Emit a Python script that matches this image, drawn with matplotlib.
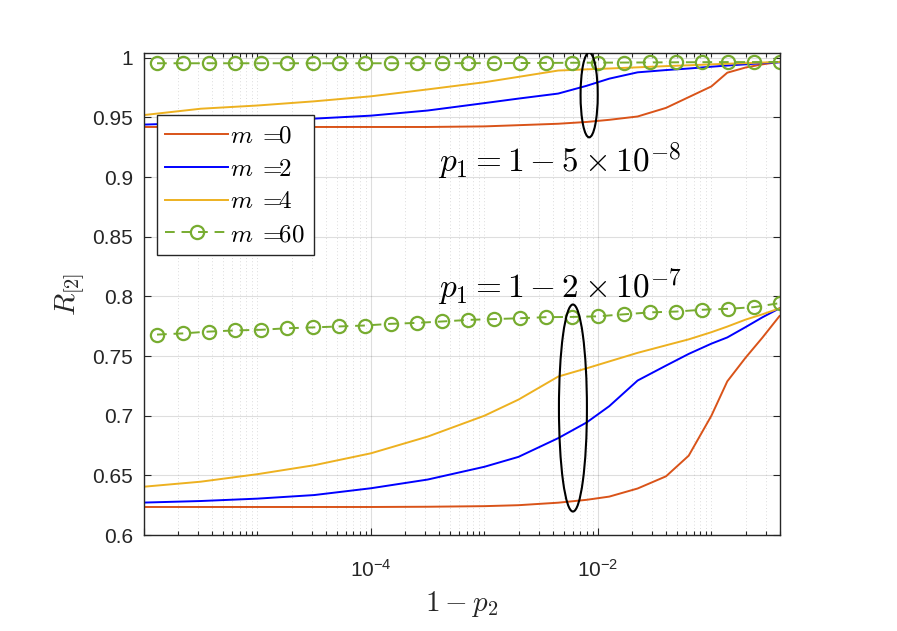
#!/usr/bin/env python3

import matplotlib
matplotlib.use('Agg')
import matplotlib.pyplot as plt
from matplotlib.patches import Ellipse
from matplotlib.ticker import FixedLocator, FixedFormatter, NullFormatter
import numpy as np

# shared x grid for the solid curves (log10 of 1 - p2)
x_exp = [-6, -5.5, -5, -4.5, -4, -3.5, -3, -2.7, -2.35, -2.1, -1.9, -1.65,
         -1.4, -1.2, -1.0, -0.86, -0.7, -0.55, -0.4]

# p1 = 1 - 5e-8
m0_top = [0.942, 0.942, 0.942, 0.942, 0.942, 0.942, 0.9425, 0.9435, 0.9447,
          0.9462, 0.948, 0.9508, 0.958, 0.967, 0.976, 0.9875, 0.9918, 0.9945,
          0.9965]
m2_top = [0.944, 0.9455, 0.947, 0.949, 0.9515, 0.9558, 0.962, 0.9658, 0.970,
          0.9765, 0.9825, 0.9878, 0.9897, 0.991, 0.9925, 0.9935, 0.9945,
          0.9955, 0.9962]
m4_top = [0.952, 0.9573, 0.960, 0.9635, 0.9677, 0.9735, 0.9795, 0.984, 0.9893,
          0.9903, 0.991, 0.992, 0.993, 0.9937, 0.9945, 0.995, 0.9955, 0.996,
          0.9965]

# p1 = 1 - 2e-7
m0_bot = [0.6235, 0.6235, 0.6235, 0.6235, 0.6235, 0.6237, 0.6242, 0.625,
          0.6271, 0.6295, 0.6322, 0.639, 0.6492, 0.6665, 0.700, 0.7288, 0.7485,
          0.7655, 0.7835]
m2_bot = [0.6272, 0.6285, 0.6305, 0.6335, 0.6392, 0.6465, 0.6572, 0.6655,
          0.6812, 0.6943, 0.708, 0.7295, 0.742, 0.7518, 0.7604, 0.7656, 0.7742,
          0.7825, 0.790]
m4_bot = [0.6405, 0.6447, 0.651, 0.6585, 0.6685, 0.6825, 0.700, 0.7135,
          0.7328, 0.7397, 0.7455, 0.7527, 0.759, 0.764, 0.770, 0.7747, 0.7805,
          0.785, 0.790]

# m = 60 curves (with markers)
x60_exp = [-5.885, -5.656, -5.428, -5.199, -4.970, -4.742, -4.513, -4.284,
           -4.056, -3.827, -3.598, -3.370, -3.141, -2.912, -2.684, -2.455,
           -2.226, -1.998, -1.769, -1.540, -1.312, -1.083, -0.854, -0.625,
           -0.396]
m60_top = [0.9954, 0.9954, 0.9954, 0.9954, 0.9954, 0.9954, 0.9954, 0.9954,
           0.9954, 0.9954, 0.9954, 0.9955, 0.9955, 0.9955, 0.9956, 0.9957,
           0.9958, 0.9959, 0.996, 0.9961, 0.9962, 0.9963, 0.9964, 0.9964,
           0.9965]
m60_bot = [0.768, 0.769, 0.7705, 0.7715, 0.772, 0.7733, 0.774, 0.7748, 0.7756,
           0.777, 0.7778, 0.779, 0.7803, 0.781, 0.7817, 0.7826, 0.7828, 0.7833,
           0.785, 0.7866, 0.7873, 0.7888, 0.7896, 0.791, 0.7944]

y_ticks = [0.6, 0.65, 0.7, 0.75, 0.8, 0.85, 0.9, 0.95, 1.0]
y_tick_labels = ['0.6', '0.65', '0.7', '0.75', '0.8', '0.85', '0.9', '0.95', '1']
x_ticks = [1e-6, 1e-4, 1e-2]
x_tick_labels = ['', r'$\mathdefault{10^{-4}}$', r'$\mathdefault{10^{-2}}$']

legend_labels = [r'$m\;=\!\!0$', r'$m\;=\!\!2$', r'$m\;=\!\!4$',
                 r'$m\;=\!\!60$']

C_RED = '#D95319'
C_BLUE = '#0000FF'
C_ORANGE = '#EDB120'
C_GREEN = '#77AC30'
C_AX = '#262626'


def main():
    plt.rcParams['font.family'] = ['Liberation Sans', 'DejaVu Sans']
    plt.rcParams['mathtext.fontset'] = 'cm'
    plt.rcParams['axes.unicode_minus'] = False

    fig = plt.figure(figsize=(8.97, 6.31), dpi=100)
    ax = fig.add_axes([0.1605, 0.1521, 0.7090, 0.7639])

    x = 10.0 ** np.array(x_exp)
    x60 = 10.0 ** np.array(x60_exp)

    lw = 1.4
    mk = dict(marker='o', markersize=9.5, markerfacecolor='none',
              markeredgewidth=1.6, dashes=(5, 3.5))

    ax.plot(x, m0_top, color=C_RED, lw=lw, label=legend_labels[0])
    ax.plot(x, m2_top, color=C_BLUE, lw=lw, label=legend_labels[1])
    ax.plot(x, m4_top, color=C_ORANGE, lw=lw, label=legend_labels[2])
    ax.plot(x60, m60_top, color=C_GREEN, lw=lw, label=legend_labels[3], **mk)

    ax.plot(x, m0_bot, color=C_RED, lw=lw)
    ax.plot(x, m2_bot, color=C_BLUE, lw=lw)
    ax.plot(x, m4_bot, color=C_ORANGE, lw=lw)
    ax.plot(x60, m60_bot, color=C_GREEN, lw=lw, **mk)

    ax.set_xscale('log')
    ax.set_xlim(1e-6, 10 ** -0.396)
    ax.set_ylim(0.6, 1.004)

    ax.xaxis.set_major_locator(FixedLocator(x_ticks))
    ax.xaxis.set_major_formatter(FixedFormatter(x_tick_labels))
    minor = [m * 10.0 ** e for e in range(-6, 0) for m in range(1, 10)
             if m * 10.0 ** e not in x_ticks]
    ax.xaxis.set_minor_locator(FixedLocator(minor))
    ax.xaxis.set_minor_formatter(NullFormatter())
    ax.yaxis.set_major_locator(FixedLocator(y_ticks))
    ax.yaxis.set_major_formatter(FixedFormatter(y_tick_labels))

    ax.tick_params(which='both', direction='in', top=True, right=True,
                   colors=C_AX, labelsize=15, width=0.8)
    ax.tick_params(which='major', length=5)
    ax.tick_params(axis='y', which='major', pad=8)
    ax.tick_params(axis='x', which='major', pad=17)
    ax.tick_params(which='minor', length=3)
    for s in ax.spines.values():
        s.set_color(C_AX)
        s.set_linewidth(1.0)

    ax.grid(True, which='major', color=C_AX, alpha=0.15, lw=0.8)
    ax.grid(True, which='minor', axis='x', color=C_AX, alpha=0.22, lw=0.6,
            linestyle=(0, (1, 3)))
    ax.set_axisbelow(True)

    ax.set_xlabel(r'$1 - p_2$', fontsize=21, color=C_AX, labelpad=6)
    ax.set_ylabel(r'$R_{[2]}$', fontsize=21, color=C_AX, labelpad=4)

    ax.text(3.9e-4, 0.913, r'$p_1 = 1 - 5 \times 10^{-8}$',
            fontsize=24, va='center', ha='left')
    ax.text(3.9e-4, 0.808, r'$p_1 = 1 - 2 \times 10^{-7}$',
            fontsize=24, va='center', ha='left')

    ax.add_patch(Ellipse((0.700, 0.913), 0.027, 0.176, transform=ax.transAxes,
                         fill=False, edgecolor='black', lw=1.5, zorder=5))
    ax.add_patch(Ellipse((0.6745, 0.2635), 0.044, 0.4295,
                         transform=ax.transAxes, fill=False, edgecolor='black',
                         lw=1.5, zorder=5))

    leg = ax.legend(loc='upper left', bbox_to_anchor=(0.02, 0.871),
                    fontsize=18, handlelength=2.5, labelspacing=0.35,
                    borderpad=0.35, handletextpad=0.1, borderaxespad=0,
                    fancybox=False, framealpha=1)
    leg.get_frame().set_edgecolor(C_AX)
    leg.get_frame().set_linewidth(1.0)

    fig.savefig('out.png', dpi=100)


if __name__ == '__main__':
    main()
